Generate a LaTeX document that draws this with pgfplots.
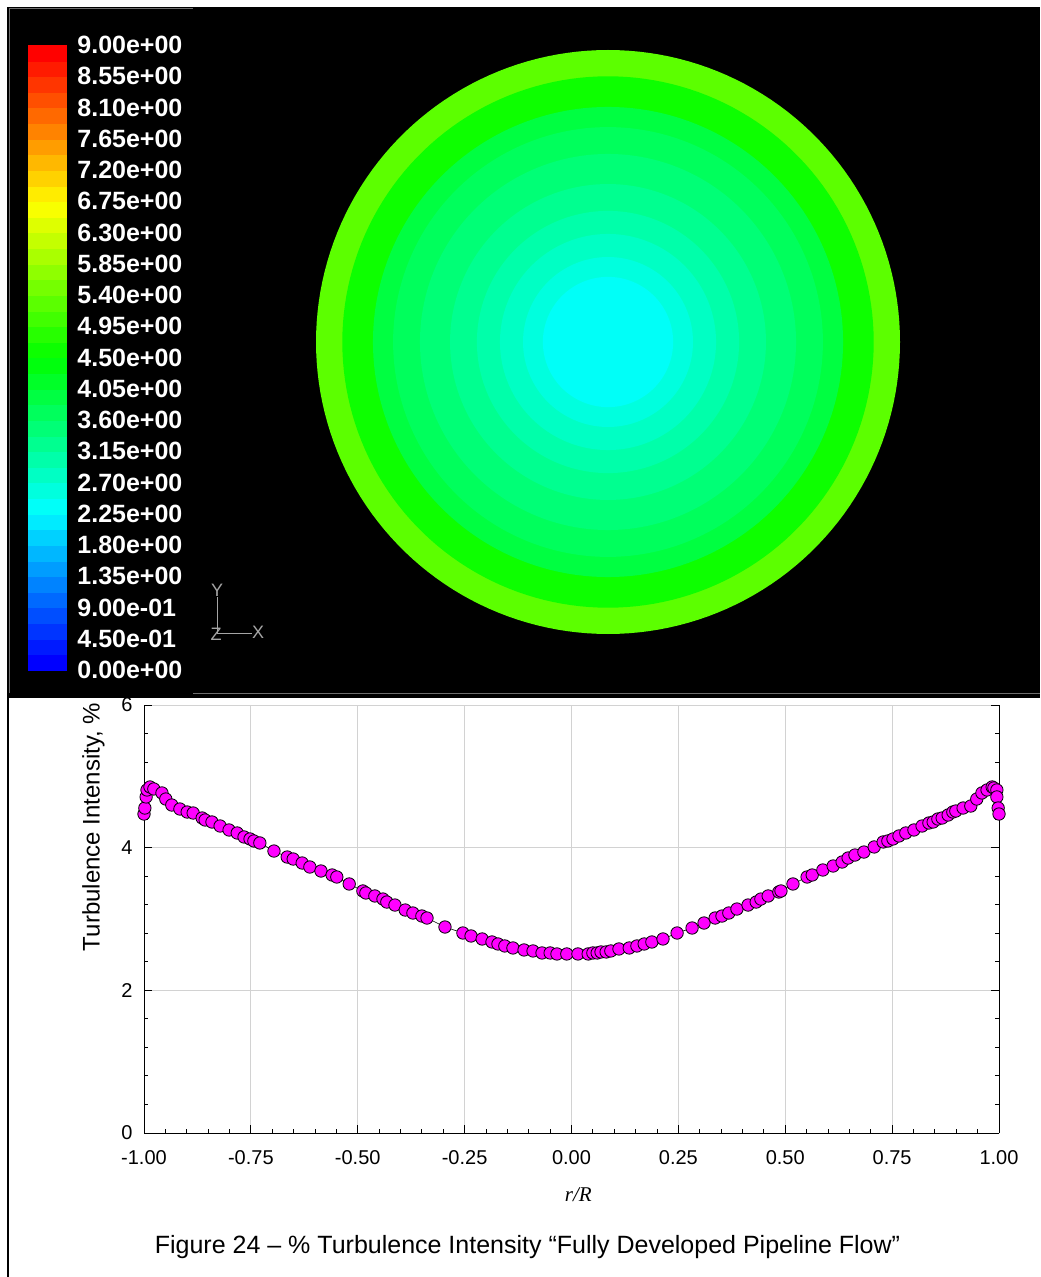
\documentclass[border=0pt]{standalone}
\usepackage{fontspec}
\setmainfont{Liberation Sans}
\newfontfamily\serifit{Liberation Serif}
\usepackage{pgfplots}
\usepackage{pgfplotstable}
\pgfplotsset{compat=1.18}

% rainbow scale: blue - cyan - green - yellow - red
\pgfplotsset{colormap={fluent}{rgb255=(0,0,255) rgb255=(0,255,255) rgb255=(0,255,0) rgb255=(255,255,0) rgb255=(255,0,0)}}

% contour band colours (band index of 40 between 0 and 9)
\definecolor{bandA}{RGB}{92,255,0}
\definecolor{bandB}{RGB}{13,255,0}
\definecolor{bandC}{RGB}{0,255,65}
\definecolor{bandD}{RGB}{0,255,92}
\definecolor{bandE}{RGB}{0,255,118}
\definecolor{bandF}{RGB}{0,255,144}
\definecolor{bandG}{RGB}{0,255,170}
\definecolor{bandH}{RGB}{0,255,196}
\definecolor{bandI}{RGB}{0,255,222}
\definecolor{bandJ}{RGB}{0,255,248}
\definecolor{marker}{RGB}{255,0,255}
\definecolor{gridgray}{RGB}{210,210,210}
\definecolor{framegray}{RGB}{110,110,110}
\definecolor{triad}{RGB}{165,165,165}

% centres of the 40 colour-bar bands
\pgfplotstableread{
y
0.1125
0.3375
0.5625
0.7875
1.0125
1.2375
1.4625
1.6875
1.9125
2.1375
2.3625
2.5875
2.8125
3.0375
3.2625
3.4875
3.7125
3.9375
4.1625
4.3875
4.6125
4.8375
5.0625
5.2875
5.5125
5.7375
5.9625
6.1875
6.4125
6.6375
6.8625
7.0875
7.3125
7.5375
7.7625
7.9875
8.2125
8.4375
8.6625
8.8875
}\bandtable

% turbulence intensity across the pipe diameter
\pgfplotstableread{
r ti
-1.000 4.472
-0.998 4.556
-0.995 4.711
-0.993 4.809
-0.986 4.851
-0.977 4.823
-0.958 4.767
-0.949 4.682
-0.935 4.598
-0.916 4.542
-0.899 4.500
-0.885 4.486
-0.864 4.416
-0.857 4.388
-0.841 4.360
-0.822 4.304
-0.801 4.248
-0.782 4.206
-0.766 4.150
-0.752 4.122
-0.743 4.094
-0.729 4.066
-0.696 3.953
-0.665 3.869
-0.651 3.841
-0.630 3.785
-0.612 3.729
-0.586 3.673
-0.560 3.617
-0.549 3.589
-0.520 3.491
-0.488 3.393
-0.481 3.365
-0.460 3.323
-0.441 3.280
-0.432 3.238
-0.413 3.196
-0.389 3.126
-0.371 3.084
-0.350 3.042
-0.338 3.014
-0.296 2.888
-0.254 2.804
-0.235 2.762
-0.209 2.720
-0.186 2.678
-0.172 2.650
-0.156 2.622
-0.137 2.594
-0.111 2.566
-0.090 2.552
-0.069 2.524
-0.050 2.524
-0.034 2.510
-0.011 2.510
0.015 2.510
0.039 2.510
0.050 2.524
0.060 2.524
0.069 2.538
0.081 2.538
0.092 2.552
0.111 2.580
0.135 2.594
0.153 2.622
0.170 2.650
0.188 2.678
0.214 2.720
0.247 2.804
0.282 2.874
0.310 2.944
0.336 3.014
0.352 3.042
0.368 3.084
0.387 3.140
0.413 3.196
0.432 3.238
0.443 3.280
0.460 3.323
0.485 3.379
0.490 3.393
0.518 3.491
0.551 3.589
0.563 3.617
0.588 3.687
0.612 3.743
0.633 3.799
0.647 3.855
0.663 3.897
0.684 3.939
0.708 4.010
0.729 4.080
0.740 4.094
0.752 4.122
0.766 4.164
0.782 4.206
0.801 4.248
0.820 4.304
0.836 4.346
0.846 4.360
0.857 4.402
0.867 4.416
0.881 4.458
0.892 4.500
0.899 4.514
0.916 4.556
0.934 4.584
0.948 4.682
0.960 4.767
0.972 4.809
0.984 4.851
0.988 4.837
0.995 4.809
0.995 4.711
0.998 4.556
1.000 4.472
}\profile

\begin{document}
\begin{tikzpicture}
\useasboundingbox (0,0) rectangle (520pt,-638.5pt);

% black viewport of the contour display
\fill[black] (3.5pt,-3.5pt) rectangle (520pt,-349pt);
\draw[framegray, line width=0.5pt] (4.5pt,-346.5pt) -- (4.5pt,-4.5pt) -- (96.5pt,-4.5pt);
\draw[framegray, line width=0.5pt] (96.5pt,-346.5pt) -- (520pt,-346.5pt);
% page rule along the left
\draw[black, line width=1pt] (4pt,-349pt) -- (4pt,-638.5pt);

% colour bar
\begin{axis}[
  at={(14pt,-335pt)}, anchor=south west,
  scale only axis, width=19pt, height=312.5pt,
  xmin=-1, xmax=1, ymin=0, ymax=9,
  axis line style={draw=none},
  xtick=\empty,
  ytick={0,0.45,0.9,1.35,1.8,2.25,2.7,3.15,3.6,4.05,4.5,4.95,5.4,5.85,6.3,6.75,7.2,7.65,8.1,8.55,9},
  yticklabels={0.00e+00,4.50e-01,9.00e-01,1.35e+00,1.80e+00,2.25e+00,2.70e+00,3.15e+00,3.60e+00,4.05e+00,4.50e+00,4.95e+00,5.40e+00,5.85e+00,6.30e+00,6.75e+00,7.20e+00,7.65e+00,8.10e+00,8.55e+00,9.00e+00},
  yticklabel pos=right,
  major tick length=0pt,
  yticklabel style={font=\fontsize{12.5}{14}\selectfont\bfseries, color=white, anchor=west, inner sep=0pt, xshift=5.5pt},
  colormap name=fluent,
  point meta min=0.1125, point meta max=8.8875,
  clip=false,
]
\addplot[scatter, only marks, mark=square*, mark size=3.95pt,
  mark options={xscale=2.405, line width=0.1pt},
  scatter/use mapped color={draw=mapped color, fill=mapped color},
  point meta=y] table[x expr=0, y=y] {\bandtable};
\end{axis}

% contour rings of the pipe cross-section (outer radius, band colour)
\begin{axis}[
  at={(158pt,-317pt)}, anchor=south west,
  scale only axis, width=292pt, height=292pt,
  xmin=-1, xmax=1, ymin=-1, ymax=1,
  hide axis, clip=false,
]
\addplot[draw=none, fill=bandA, domain=0:360, samples=181] ({1.000*cos(x)},{1.000*sin(x)});
\addplot[draw=none, fill=bandB, domain=0:360, samples=181] ({0.910*cos(x)},{0.910*sin(x)});
\addplot[draw=none, fill=bandC, domain=0:360, samples=181] ({0.805*cos(x)},{0.805*sin(x)});
\addplot[draw=none, fill=bandD, domain=0:360, samples=181] ({0.736*cos(x)},{0.736*sin(x)});
\addplot[draw=none, fill=bandE, domain=0:360, samples=181] ({0.644*cos(x)},{0.644*sin(x)});
\addplot[draw=none, fill=bandF, domain=0:360, samples=181] ({0.541*cos(x)},{0.541*sin(x)});
\addplot[draw=none, fill=bandG, domain=0:360, samples=181] ({0.449*cos(x)},{0.449*sin(x)});
\addplot[draw=none, fill=bandH, domain=0:360, samples=181] ({0.370*cos(x)},{0.370*sin(x)});
\addplot[draw=none, fill=bandI, domain=0:360, samples=181] ({0.291*cos(x)},{0.291*sin(x)});
\addplot[draw=none, fill=bandJ, domain=0:360, samples=181] ({0.223*cos(x)},{0.223*sin(x)});
\end{axis}

% coordinate triad
\draw[triad, line width=0.4pt] (108.5pt,-298.5pt) -- (108.5pt,-316.5pt) -- (126pt,-316.5pt);
\node[triad, font=\fontsize{9}{10}\selectfont, inner sep=0pt] at (108.5pt,-295pt) {Y};
\node[triad, font=\fontsize{9}{10}\selectfont, inner sep=0pt] at (129pt,-316pt) {X};
\node[triad, font=\fontsize{9}{10}\selectfont, inner sep=0pt] at (108pt,-317pt) {Z};

% radial profile
\begin{axis}[
  at={(72pt,-566.5pt)}, anchor=south west,
  scale only axis, width=427.5pt, height=214pt,
  xmin=-1, xmax=1, ymin=0, ymax=6,
  axis x line*=bottom, axis y line*=box,
  xtick={-1,-0.75,-0.5,-0.25,0,0.25,0.5,0.75,1},
  ytick={0,2,4,6},
  minor x tick num=4, minor y tick num=4,
  grid=major, major grid style={gridgray, line width=0.5pt},
  tick align=inside,
  major tick length=4pt, minor tick length=2pt,
  every tick/.style={black, line width=0.5pt},
  axis line style={black, line width=0.5pt},
  /pgf/number format/assume math mode=true,
  xticklabel style={font=\fontsize{10}{12}\selectfont, inner sep=0pt, yshift=-8.5pt,
    /pgf/number format/.cd, fixed, fixed zerofill, precision=2},
  yticklabel style={font=\fontsize{10}{12}\selectfont, inner sep=0pt, xshift=-5.5pt},
  ylabel={Turbulence Intensity, \%},
  ylabel style={font=\fontsize{12}{14}\selectfont, at={(rel axis cs:-0.0456,0.715)}, anchor=south, inner sep=0pt},
  xlabel={r/R},
  xlabel style={font=\fontsize{10.5}{12}\selectfont\serifit\itshape, at={(rel axis cs:0.508,-0.159)}, anchor=base, inner sep=0pt},
  clip=false,
]
\addplot[black, line width=0.3pt, mark=*, mark size=3.1pt,
  mark options={fill=marker, draw=black, line width=0.4pt}] table[x=r, y=ti] {\profile};
\end{axis}

\node[font=\fontsize{12.5}{15}\selectfont, anchor=base] at (263.75pt,-626.5pt)
  {Figure 24 – \% Turbulence Intensity “Fully Developed Pipeline Flow”};
\end{tikzpicture}
\end{document}
